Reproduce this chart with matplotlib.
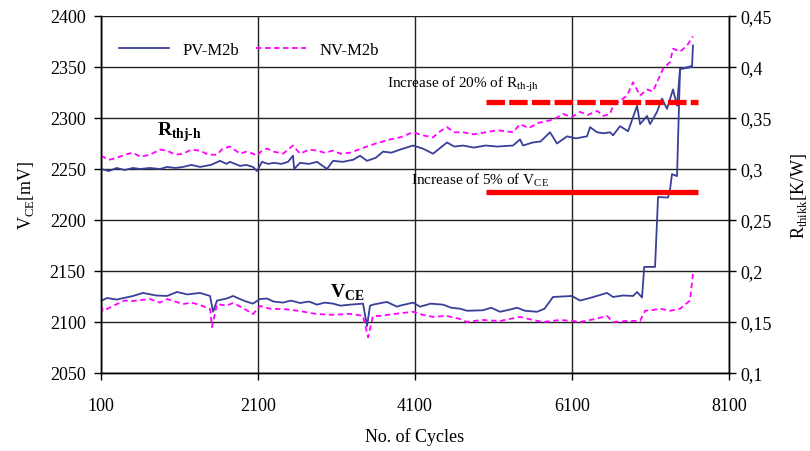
import matplotlib
matplotlib.use("Agg")
import matplotlib.pyplot as plt
from matplotlib.ticker import FuncFormatter

plt.rcParams['font.family'] = ['Liberation Serif', 'DejaVu Serif']
plt.rcParams['mathtext.fontset'] = 'custom'
plt.rcParams['mathtext.rm'] = 'Liberation Serif'
plt.rcParams['mathtext.bf'] = 'Liberation Serif:bold'

# R_th curves (right axis, K/W)
pv_r_cyc = [100, 200, 300, 400, 508, 600, 724, 850, 941, 1050, 1145, 1250, 1361, 1500, 1616,
            1700, 1743, 1871, 1950, 2036, 2087, 2151, 2230, 2300, 2400, 2482, 2546, 2560,
            2635, 2750, 2852, 2979, 3056, 3180, 3310, 3400, 3489, 3600, 3693, 3800, 3909,
            4075, 4200, 4330, 4508, 4600, 4712, 4850, 5000, 5150, 5349, 5438, 5476, 5600,
            5700, 5820, 5909, 6037, 6150, 6291, 6330, 6419, 6500, 6585, 6623, 6712, 6814,
            6929, 6967, 7056, 7094, 7183, 7247, 7310, 7387, 7438, 7476, 7629]
pv_r = [0.300, 0.298, 0.301, 0.299, 0.301, 0.300, 0.301, 0.300, 0.302, 0.301, 0.302, 0.304,
        0.302, 0.304, 0.308, 0.305, 0.307, 0.303, 0.304, 0.302, 0.298, 0.307, 0.305, 0.306,
        0.305, 0.307, 0.313, 0.300, 0.306, 0.305, 0.307, 0.300, 0.308, 0.307, 0.309, 0.313,
        0.308, 0.311, 0.317, 0.316, 0.319, 0.323, 0.320, 0.315, 0.326, 0.322, 0.323, 0.321,
        0.323, 0.322, 0.323, 0.329, 0.323, 0.326, 0.327, 0.336, 0.325, 0.332, 0.330, 0.332,
        0.341, 0.336, 0.335, 0.336, 0.333, 0.342, 0.337, 0.362, 0.344, 0.352, 0.344, 0.356,
        0.369, 0.359, 0.378, 0.362, 0.398, 0.401]

nv_r_cyc = [100, 200, 304, 400, 508, 600, 724, 850, 941, 1050, 1145, 1250, 1361, 1470, 1578,
            1650, 1743, 1871, 1950, 2036, 2087, 2150, 2215, 2300, 2419, 2546, 2635, 2750,
            2852, 2950, 3056, 3150, 3272, 3380, 3489, 3600, 3782, 3909, 4075, 4200, 4330,
            4420, 4508, 4600, 4712, 4850, 5000, 5150, 5349, 5438, 5550, 5660, 5782, 5880,
            5985, 6100, 6202, 6300, 6419, 6500, 6585, 6623, 6700, 6801, 6878, 6967, 7056,
            7130, 7183, 7259, 7349, 7387, 7476, 7565, 7641]
nv_r = [0.313, 0.309, 0.311, 0.314, 0.316, 0.312, 0.314, 0.319, 0.318, 0.314, 0.315, 0.319,
        0.318, 0.314, 0.314, 0.320, 0.322, 0.315, 0.317, 0.315, 0.313, 0.318, 0.320, 0.317,
        0.315, 0.323, 0.315, 0.319, 0.318, 0.316, 0.318, 0.315, 0.316, 0.319, 0.322, 0.325,
        0.329, 0.331, 0.336, 0.333, 0.331, 0.337, 0.341, 0.336, 0.336, 0.334, 0.336, 0.338,
        0.336, 0.344, 0.340, 0.345, 0.347, 0.349, 0.354, 0.351, 0.356, 0.353, 0.357, 0.352,
        0.354, 0.362, 0.366, 0.372, 0.385, 0.372, 0.378, 0.376, 0.385, 0.398, 0.405, 0.418,
        0.415, 0.421, 0.430]

# V_CE curves (left axis, mV)
pv_v_cyc = [100, 176, 300, 508, 635, 800, 941, 1068, 1200, 1361, 1489, 1527, 1578, 1700,
            1782, 1871, 1950, 2036, 2126, 2215, 2300, 2419, 2520, 2635, 2750, 2852, 2950,
            3056, 3150, 3272, 3438, 3489, 3527, 3565, 3693, 3744, 3871, 3909, 4075, 4164,
            4300, 4457, 4560, 4674, 4763, 4967, 5070, 5183, 5300, 5400, 5500, 5654, 5750,
            5858, 6100, 6202, 6350, 6546, 6623, 6750, 6878, 6929, 6992, 7020, 7158, 7196,
            7323, 7349, 7374, 7438, 7476, 7629, 7641]
pv_v = [2120.6, 2123.5, 2122.0, 2125.5, 2128.5, 2126.0, 2125.5, 2129.4, 2127.0, 2128.5,
        2125.5, 2110.0, 2121.0, 2123.0, 2125.5, 2122.5, 2120.0, 2118.0, 2122.5, 2123.0,
        2120.0, 2119.0, 2121.0, 2118.6, 2120.0, 2117.0, 2119.0, 2118.0, 2116.0, 2117.0,
        2118.0, 2096.0, 2116.0, 2117.0, 2119.0, 2119.6, 2115.0, 2116.0, 2119.0, 2115.0,
        2118.0, 2117.0, 2114.0, 2113.0, 2111.0, 2111.5, 2114.0, 2110.0, 2112.0, 2114.0,
        2111.0, 2110.0, 2113.0, 2124.5, 2125.5, 2121.0, 2124.0, 2128.5, 2124.5, 2126.0,
        2125.5, 2129.4, 2124.0, 2154.0, 2154.0, 2222.5, 2222.0, 2230.0, 2245.0, 2243.0,
        2348.0, 2350.0, 2371.0]

nv_v_cyc = [100, 125, 304, 400, 508, 724, 850, 941, 1145, 1250, 1361, 1489, 1514, 1578,
            1700, 1782, 1900, 2036, 2126, 2250, 2419, 2635, 2750, 2852, 3056, 3272, 3438,
            3502, 3565, 3655, 3850, 4075, 4200, 4330, 4500, 4674, 4763, 4950, 5183, 5438,
            5600, 5731, 5947, 6100, 6202, 6400, 6546, 6623, 6800, 6967, 7031, 7150, 7221,
            7350, 7476, 7603, 7641]
nv_v = [2115.7, 2110.8, 2117.6, 2121.0, 2120.6, 2122.5, 2119.0, 2122.5, 2117.6, 2119.0,
        2116.7, 2112.7, 2095.0, 2117.6, 2116.0, 2118.6, 2114.0, 2107.8, 2115.7, 2113.0,
        2112.7, 2110.8, 2109.0, 2107.8, 2107.0, 2108.0, 2106.0, 2085.0, 2106.0, 2106.0,
        2108.0, 2110.0, 2107.0, 2105.0, 2106.0, 2103.0, 2100.0, 2102.0, 2101.0, 2105.0,
        2102.0, 2100.0, 2102.0, 2101.0, 2100.0, 2103.0, 2106.0, 2100.0, 2101.0, 2101.0,
        2111.0, 2112.0, 2113.0, 2111.0, 2113.0, 2121.0, 2147.0]

# threshold lines
lim_cyc = [5000, 7700]
r_limit = 0.366
v_limit = 2227.5

x_ticks = [100, 2100, 4100, 6100, 8100]

navy = '#3a3f98'
mag = '#ff00ff'

fig = plt.figure(figsize=(8.1, 4.52), dpi=100)
ax = fig.add_axes([0.1247, 0.1726, 0.7753, 0.7898])
ax2 = ax.twinx()

ax.plot(pv_v_cyc, pv_v, color=navy, lw=1.3, label='PV-M2b')
ax.plot(nv_v_cyc, nv_v, color=mag, lw=1.3, ls=(0, (3, 2)), label='NV-M2b')
ax.plot(lim_cyc, [v_limit, v_limit], color='#ff0000', lw=3.8, solid_capstyle='butt')

ax2.plot(pv_r_cyc, pv_r, color=navy, lw=1.3)
ax2.plot(nv_r_cyc, nv_r, color=mag, lw=1.3, ls=(0, (3, 2)))
ax2.plot(lim_cyc, [r_limit, r_limit], color='#ff0000', lw=3.8, ls=(0, (3.5, 0.8)))

ax.set_xlim(100, 8100)
ax.set_ylim(2050, 2400)
ax2.set_ylim(0.1, 0.45)
ax.set_xticks(x_ticks)
ax.set_yticks(range(2050, 2401, 50))
ax2.set_yticks([0.1, 0.15, 0.2, 0.25, 0.3, 0.35, 0.4, 0.45])
ax2.yaxis.set_major_formatter(FuncFormatter(lambda v, p: ('%g' % round(v, 2)).replace('.', ',')))

ax.grid(True, color='#222222', lw=1.0)
for a in (ax, ax2):
    a.tick_params(labelsize=13, direction='out', length=5, width=1)
    for s in a.spines.values():
        s.set_linewidth(1.0)
    a.spines['top'].set_visible(False)
ax.tick_params(axis='x', pad=12)
ax.tick_params(axis='y', pad=6)

ax.set_xlabel('No. of Cycles', fontsize=13, labelpad=10)
ax.set_ylabel(r'V$_{\mathregular{CE}}$[mV]', fontsize=13, labelpad=10)
ax2.set_ylabel(r'R$_{\mathregular{thikk}}$[K/W]', fontsize=13, labelpad=12)

ax.legend(loc='upper left', ncol=2, frameon=False, fontsize=12,
          bbox_to_anchor=(0.005, 0.97), handlelength=3.0, columnspacing=1.0)

ax.text(3744, 2334, r'Increase of 20% of R$_{\mathregular{th\text{-}jh}}$', fontsize=11, va='center')
ax.text(4050, 2240, r'Increase of 5% of V$_{\mathregular{CE}}$', fontsize=11, va='center')
ax.text(813, 2287, r'R$_{\mathregular{thj\text{-}h}}$', fontsize=14, fontweight='bold', va='center')
ax.text(3017, 2130, r'V$_{\mathregular{CE}}$', fontsize=14, fontweight='bold', va='center')

fig.savefig('out.png', dpi=100)
